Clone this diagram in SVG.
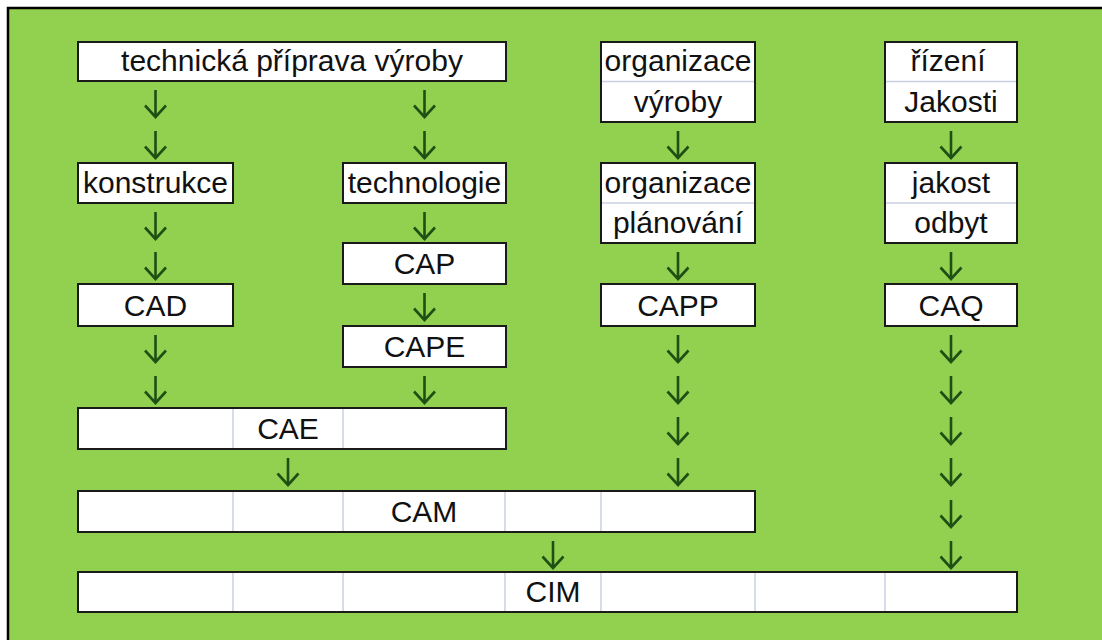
<svg xmlns="http://www.w3.org/2000/svg" width="1102" height="640" viewBox="0 0 1102 640">
  <defs>
    <style>
      .box { fill: #ffffff; stroke: #1a1a1a; stroke-width: 2; }
      .div { stroke: #c8d0e2; stroke-width: 1.5; fill: none; }
      .t { font-family: "Liberation Sans", Arial, sans-serif; font-size: 30px; fill: #111111; text-anchor: middle; }
      .arr { stroke: #1f4f14; stroke-width: 2.6; fill: none; marker-end: url(#head); }
    </style>
    <marker id="head" markerUnits="userSpaceOnUse" viewBox="0 0 24 15" refX="12" refY="13" markerWidth="24" markerHeight="15" orient="0">
      <path d="M1.5,1.5 L12,13 L22.5,1.5" fill="none" stroke="#1f4f14" stroke-width="2.6" stroke-linejoin="miter"/>
    </marker>
  </defs>

  <rect x="0" y="0" width="1102" height="640" fill="#ffffff"/>
  <rect x="8" y="8" width="1094" height="632" fill="#92d050"/>
  <path d="M8,640 V8 H1102" fill="none" stroke="#000000" stroke-width="2.5"/>

  <g id="node-tpv">
    <rect class="box" x="78" y="42" width="428" height="39"/>
    <text class="t" x="292" y="71">technická příprava výroby</text>
  </g>
  <g id="node-org-vyroby">
    <rect class="box" x="601" y="42" width="154" height="80"/>
    <line class="div" x1="602" y1="81.5" x2="754" y2="81.5"/>
    <text class="t" x="678" y="71">organizace</text>
    <text class="t" x="678" y="112">výroby</text>
  </g>
  <g id="node-rizeni">
    <rect class="box" x="885" y="42" width="132" height="80"/>
    <line class="div" x1="886" y1="81.5" x2="1016" y2="81.5"/>
    <text class="t" x="948" y="71">řízení</text>
    <text class="t" x="951" y="112">Jakosti</text>
  </g>
  <g id="node-konstrukce">
    <rect class="box" x="78" y="163" width="155" height="40"/>
    <text class="t" x="155.5" y="193">konstrukce</text>
  </g>
  <g id="node-technologie">
    <rect class="box" x="343" y="163" width="163" height="40"/>
    <text class="t" x="424.5" y="193">technologie</text>
  </g>
  <g id="node-org-planovani">
    <rect class="box" x="601" y="163" width="154" height="80"/>
    <line class="div" x1="602" y1="203" x2="754" y2="203"/>
    <text class="t" x="678" y="193">organizace</text>
    <text class="t" x="678" y="233">plánování</text>
  </g>
  <g id="node-jakost">
    <rect class="box" x="885" y="163" width="132" height="80"/>
    <line class="div" x1="886" y1="203" x2="1016" y2="203"/>
    <text class="t" x="951" y="193">jakost</text>
    <text class="t" x="951" y="233">odbyt</text>
  </g>
  <g id="node-cap">
    <rect class="box" x="343" y="243" width="163" height="41"/>
    <text class="t" x="424.5" y="274">CAP</text>
  </g>
  <g id="node-cad">
    <rect class="box" x="78" y="284" width="155" height="42"/>
    <text class="t" x="155.5" y="316">CAD</text>
  </g>
  <g id="node-capp">
    <rect class="box" x="601" y="284" width="154" height="42"/>
    <text class="t" x="678" y="316">CAPP</text>
  </g>
  <g id="node-caq">
    <rect class="box" x="885" y="284" width="132" height="42"/>
    <text class="t" x="951" y="316">CAQ</text>
  </g>
  <g id="node-cape">
    <rect class="box" x="343" y="326" width="163" height="41"/>
    <text class="t" x="424.5" y="357">CAPE</text>
  </g>
  <g id="node-cae">
    <rect class="box" x="78" y="408" width="428" height="41"/>
    <line class="div" x1="233" y1="409" x2="233" y2="448"/>
    <line class="div" x1="343" y1="409" x2="343" y2="448"/>
    <text class="t" x="288" y="439">CAE</text>
  </g>
  <g id="node-cam">
    <rect class="box" x="78" y="491" width="677" height="41"/>
    <line class="div" x1="233" y1="492" x2="233" y2="531"/>
    <line class="div" x1="343" y1="492" x2="343" y2="531"/>
    <line class="div" x1="505" y1="492" x2="505" y2="531"/>
    <line class="div" x1="601" y1="492" x2="601" y2="531"/>
    <text class="t" x="424" y="522">CAM</text>
  </g>
  <g id="node-cim">
    <rect class="box" x="78" y="572" width="939" height="40"/>
    <line class="div" x1="233" y1="573" x2="233" y2="611"/>
    <line class="div" x1="343" y1="573" x2="343" y2="611"/>
    <line class="div" x1="505" y1="573" x2="505" y2="611"/>
    <line class="div" x1="601" y1="573" x2="601" y2="611"/>
    <line class="div" x1="755" y1="573" x2="755" y2="611"/>
    <line class="div" x1="885" y1="573" x2="885" y2="611"/>
    <text class="t" x="553" y="602">CIM</text>
  </g>

  <g id="connectors">
    <!-- column 1 -->
    <line class="arr" x1="155.5" y1="90" x2="155.5" y2="117"/>
    <line class="arr" x1="155.5" y1="131" x2="155.5" y2="158"/>
    <line class="arr" x1="155.5" y1="212" x2="155.5" y2="239"/>
    <line class="arr" x1="155.5" y1="252" x2="155.5" y2="279"/>
    <line class="arr" x1="155.5" y1="335" x2="155.5" y2="362"/>
    <line class="arr" x1="155.5" y1="376" x2="155.5" y2="403"/>
    <!-- column 2 -->
    <line class="arr" x1="424.5" y1="90" x2="424.5" y2="117"/>
    <line class="arr" x1="424.5" y1="131" x2="424.5" y2="158"/>
    <line class="arr" x1="424.5" y1="212" x2="424.5" y2="239"/>
    <line class="arr" x1="424.5" y1="293" x2="424.5" y2="320"/>
    <line class="arr" x1="424.5" y1="376" x2="424.5" y2="403"/>
    <!-- column 3 -->
    <line class="arr" x1="678" y1="131" x2="678" y2="158"/>
    <line class="arr" x1="678" y1="252" x2="678" y2="279"/>
    <line class="arr" x1="678" y1="335" x2="678" y2="362"/>
    <line class="arr" x1="678" y1="376" x2="678" y2="403"/>
    <line class="arr" x1="678" y1="417" x2="678" y2="444"/>
    <line class="arr" x1="678" y1="458" x2="678" y2="485"/>
    <!-- column 4 -->
    <line class="arr" x1="951" y1="131" x2="951" y2="158"/>
    <line class="arr" x1="951" y1="252" x2="951" y2="279"/>
    <line class="arr" x1="951" y1="335" x2="951" y2="362"/>
    <line class="arr" x1="951" y1="376" x2="951" y2="403"/>
    <line class="arr" x1="951" y1="417" x2="951" y2="444"/>
    <line class="arr" x1="951" y1="458" x2="951" y2="485"/>
    <line class="arr" x1="951" y1="500" x2="951" y2="527"/>
    <line class="arr" x1="951" y1="541" x2="951" y2="568"/>
    <!-- CAE to CAM, CAM to CIM -->
    <line class="arr" x1="288" y1="458" x2="288" y2="485"/>
    <line class="arr" x1="553" y1="541" x2="553" y2="568"/>
  </g>
</svg>
